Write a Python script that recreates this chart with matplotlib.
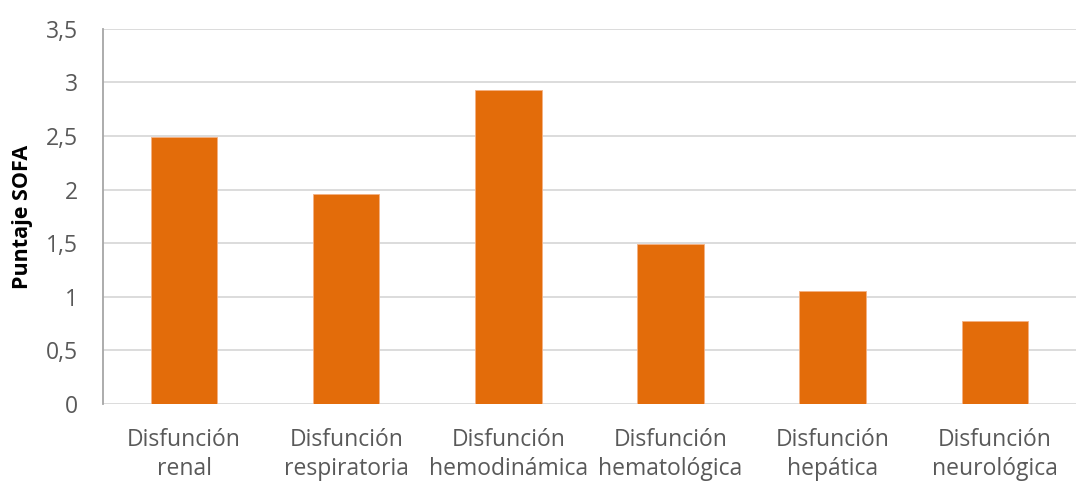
import matplotlib
matplotlib.use("Agg")
import matplotlib.pyplot as plt
from matplotlib.ticker import FuncFormatter, MultipleLocator

categorias = ["Disfunción\nrenal", "Disfunción\nrespiratoria", "Disfunción\nhemodinámica",
              "Disfunción\nhematológica", "Disfunción\nhepática", "Disfunción\nneurológica"]
puntaje = [2.49, 1.96, 2.93, 1.49, 1.05, 0.77]

NARANJA = "#E36C0A"
GRIS = "#595959"

plt.rcParams["font.family"] = ["Open Sans", "DejaVu Sans"]

fig = plt.figure(figsize=(10.76, 4.82), dpi=100)
ax = fig.add_axes([0.0957, 0.162, 0.9043, 0.778])

x = range(len(categorias))
ax.bar(x, puntaje, width=0.41, color=NARANJA, edgecolor="#F4B183", linewidth=0.6, zorder=3)

ax.set_xlim(-0.5, len(categorias) - 0.5)
ax.set_ylim(0, 3.5)
ax.yaxis.set_major_locator(MultipleLocator(0.5))
ax.yaxis.set_major_formatter(FuncFormatter(lambda v, _: f"{v:g}".replace(".", ",")))
ax.grid(axis="y", color="#D9D9D9", lw=1.3, zorder=0)
ax.set_axisbelow(True)

for s in ["top", "right", "bottom"]:
    ax.spines[s].set_visible(False)
ax.spines["left"].set_color("#A6A6A6")
ax.spines["left"].set_linewidth(1.3)

ax.set_xticks(list(x))
ax.set_xticklabels(categorias, fontsize=16.5, color=GRIS, linespacing=1.3)
ax.tick_params(axis="x", length=0, pad=17)
ax.tick_params(axis="y", length=0, pad=18, labelsize=16.5, labelcolor=GRIS)

ax.set_ylabel("Puntaje SOFA", fontsize=15.5, fontweight="bold", color="black")
ax.yaxis.set_label_coords(-0.072, 0.5)

fig.savefig("out.png", dpi=100)
